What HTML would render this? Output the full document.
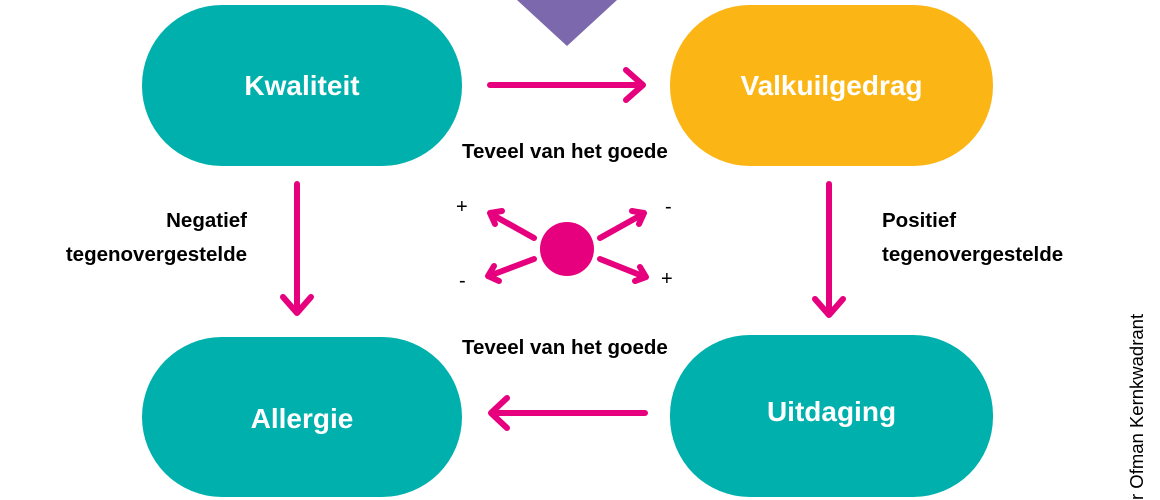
<!DOCTYPE html>
<html><head><meta charset="utf-8"><style>
html,body{margin:0;padding:0;background:#fff;}
body{width:1160px;height:500px;position:relative;overflow:hidden;font-family:"Liberation Sans",sans-serif;}
.pill{position:absolute;border-radius:80px;color:#fff;font-weight:bold;font-size:28px;display:flex;align-items:center;justify-content:center;}
.t{position:absolute;font-weight:bold;font-size:20.5px;color:#000;line-height:32px;white-space:nowrap;}
</style></head><body>
<div class="pill" style="left:142px;top:5px;width:320px;height:161px;background:#00b0ad;">Kwaliteit</div>
<div class="pill" style="left:670px;top:5px;width:323px;height:161px;background:#fbb616;">Valkuilgedrag</div>
<div class="pill" style="left:142px;top:337px;width:320px;height:160px;background:#00b0ad;padding-top:4px;box-sizing:border-box;">Allergie</div>
<div class="pill" style="left:670px;top:335px;width:323px;height:162px;background:#00b0ad;padding-bottom:8px;box-sizing:border-box;">Uitdaging</div>
<svg width="1160" height="500" style="position:absolute;left:0;top:0">
<polygon points="517,0 617,0 567,46" fill="#7b68ad"/>
<g stroke="#e6007e" stroke-width="6" fill="none" stroke-linecap="round" stroke-linejoin="round">
<line x1="490" y1="85" x2="642" y2="85"/><polyline points="626,70 643,85 626,100"/>
<line x1="297" y1="184" x2="297" y2="312"/><polyline points="283,297 297,313 311,297"/>
<line x1="829" y1="184" x2="829" y2="314"/><polyline points="815,299 829,315 843,299"/>
<line x1="645" y1="413" x2="492" y2="413"/><polyline points="507,398 491,413 507,428"/>
<line x1="534" y1="238" x2="491" y2="214"/><polyline points="502,211 490,213 495,224"/>
<line x1="600" y1="238" x2="643" y2="214"/><polyline points="632,211 644,213 639,224"/>
<line x1="534" y1="259" x2="489" y2="276"/><polyline points="494,266 488,276 499,281"/>
<line x1="600" y1="259" x2="645" y2="277"/><polyline points="640,267 646,277 635,281"/>
</g>
<circle cx="567" cy="249" r="27" fill="#e6007e"/>
</svg>
<div class="t" style="left:462px;top:136px;">Teveel van het goede</div>
<div class="t" style="left:462px;top:332px;">Teveel van het goede</div>
<div class="t" style="right:913px;top:204px;text-align:right;line-height:34px;">Negatief<br>tegenovergestelde</div>
<div class="t" style="left:882px;top:204px;line-height:34px;">Positief<br>tegenovergestelde</div>
<div style="position:absolute;left:456px;top:196px;font-size:20px;">+</div>
<div style="position:absolute;left:665px;top:196px;font-size:20px;">-</div>
<div style="position:absolute;left:459px;top:270px;font-size:20px;">-</div>
<div style="position:absolute;left:661px;top:268px;font-size:20px;">+</div>
<div style="position:absolute;left:1126px;top:500px;transform-origin:0 0;transform:rotate(-90deg);font-size:18.5px;white-space:nowrap;line-height:22px;">r Ofman Kernkwadrant</div>
</body></html>
